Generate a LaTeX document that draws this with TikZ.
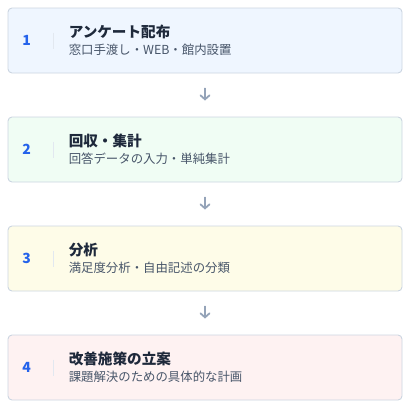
\documentclass[tikz,border=0pt]{standalone}
\usepackage{fontspec}
\setmainfont{Noto Sans CJK JP}
\usetikzlibrary{arrows.meta, positioning}

\definecolor{edgegray}{HTML}{CBD5E1}
\definecolor{sepgray}{HTML}{E2E8F0}
\definecolor{numblue}{HTML}{2563EB}
\definecolor{arrowgray}{HTML}{94A3B8}
\definecolor{titleink}{HTML}{1E293B}
\definecolor{subink}{HTML}{475569}
\definecolor{fillblue}{HTML}{EFF6FF}
\definecolor{fillgreen}{HTML}{F0FDF4}
\definecolor{fillyellow}{HTML}{FEFCE8}
\definecolor{fillred}{HTML}{FEF2F2}

\tikzset{
  stepbox/.style={draw=edgegray, line width=0.9pt, rounded corners=4pt,
    minimum width=394pt, minimum height=65pt, inner sep=0pt},
  stepnum/.style={font=\bfseries\fontsize{14}{14}\selectfont, text=numblue, inner sep=0pt},
  steptitle/.style={font=\bfseries\fontsize{14.6}{15}\selectfont, text=titleink, anchor=west, inner sep=0pt},
  stepsub/.style={font=\fontsize{12.4}{13}\selectfont, text=subink, anchor=west, inner sep=0pt},
  stepsep/.style={draw=sepgray, line width=1.6pt},
  flow/.style={draw=arrowgray, line width=1.8pt, line cap=round,
    -{Straight Barb[length=4pt,width=9pt,line cap=round]},
    shorten <=15pt, shorten >=16pt}
}

\begin{document}
\begin{tikzpicture}[x=1pt, y=-1pt]
    \useasboundingbox (0,0) rectangle (406,407);

    \node[stepbox, fill=fillblue]   (box1) at (205,40.5)  {};
    \node[stepbox, fill=fillgreen]  (box2) at (205,149.5) {};
    \node[stepbox, fill=fillyellow] (box3) at (205,258.5) {};
    \node[stepbox, fill=fillred]    (box4) at (205,367.5) {};

    % number, separator and texts in each box
    \foreach \b/\n/\t/\s in {
        box1/1/アンケート配布/窓口手渡し・WEB・館内設置,
        box2/2/回収・集計/回答データの入力・単純集計,
        box3/3/分析/満足度分析・自由記述の分類,
        box4/4/改善施策の立案/課題解決のための具体的な計画}{
        \node[stepnum] (\b-num) at ([xshift=19pt]\b.west) {\n};
        \draw[stepsep] ([xshift=46pt,yshift=8pt]\b.west) -- ([xshift=46pt,yshift=-8pt]\b.west);
        \node[steptitle] (\b-title) at ([xshift=61pt,yshift=8.5pt]\b.west) {\t};
        \node[stepsub] (\b-sub) at ([xshift=61pt,yshift=-9.5pt]\b.west) {\s};
    }

    \draw[flow] (box1) -- (box2);
    \draw[flow] (box2) -- (box3);
    \draw[flow] (box3) -- (box4);
\end{tikzpicture}
\end{document}
